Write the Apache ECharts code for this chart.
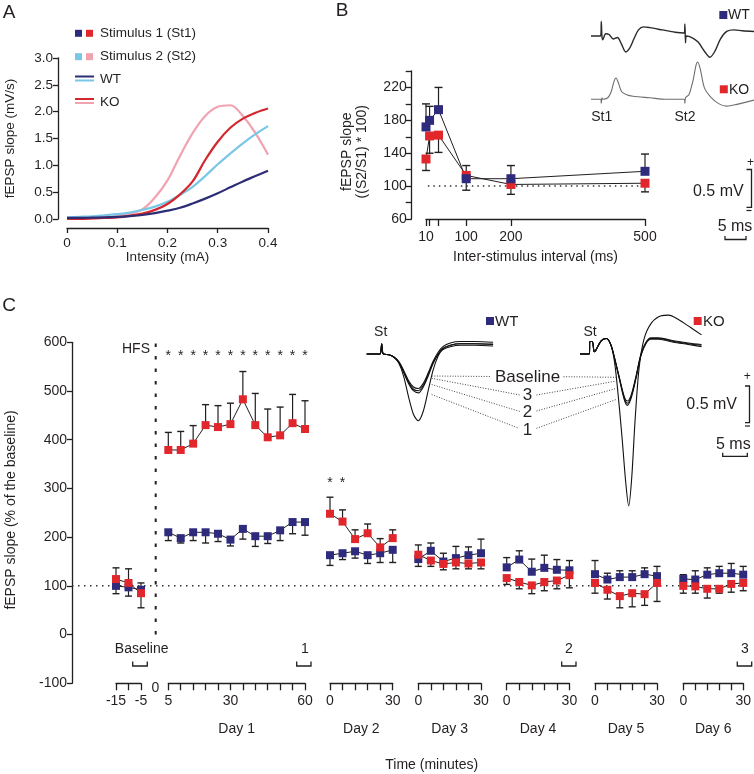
<!DOCTYPE html>
<html><head><meta charset="utf-8">
<script src="https://cdn.jsdelivr.net/npm/echarts@6/dist/echarts.min.js"></script>
<style>html,body{margin:0;padding:0;background:#fff}#c{width:754px;height:774px}</style>
</head><body><div id="c"></div>
<script>
// ---------------- Panel A data ----------------
var aIntensity = [0,0.025,0.05,0.075,0.1,0.125,0.15,0.175,0.2,0.225,0.25,0.275,0.3,0.325,0.35,0.375,0.4];
var aWT_St1 = [0.02,0.02,0.025,0.03,0.04,0.055,0.075,0.11,0.155,0.21,0.29,0.38,0.48,0.59,0.7,0.8,0.9];
var aWT_St2 = [0.03,0.04,0.05,0.07,0.09,0.12,0.17,0.23,0.32,0.45,0.6,0.8,1.02,1.22,1.41,1.58,1.73];
var aKO_St1 = [0,0,0.01,0.02,0.03,0.06,0.1,0.17,0.28,0.46,0.7,1.1,1.44,1.7,1.87,1.98,2.06];
var aKO_St2 = [0,0.005,0.01,0.025,0.05,0.1,0.18,0.4,0.72,1.18,1.6,1.92,2.09,2.12,1.92,1.6,1.2];

// ---------------- Panel B data ----------------
var bInterval = [10,18,38,100,200,500];
var bWT = [172,180,193,109,109,118];
var bWTErrEnd = [200,197,220,95,125,139];
var bKO = [133,161,162,113,102,103.5];
var bKOErrEnd = [119,140,141,125,90,93];
var bTickValues = [10,18,38,100,200,500];
var bLabelValues = [10,100,200,500];
// example traces (time ms, mV)
var bTraceWT = [[0,0],[2.3,0],[2.45,0.19],[2.6,0.0],[2.8,-0.05],[3.5,0.03],[4.3,0.02],[5.3,-0.04],[6.3,-0.02],[7.2,-0.1],[8.3,-0.21],[9.2,-0.16],[10.2,-0.04],[11.3,0.08],[12.5,0.12],[14,0.11],[17,0.08],[20,0.05],[22.2,0.04],[22.35,0.16],[22.5,-0.09],[22.7,0.0],[24,-0.02],[25.5,-0.08],[27,-0.2],[28.3,-0.28],[29.5,-0.2],[30.8,-0.04],[32.3,0.06],[34,0.08],[36,0.07],[38.8,0.06]];
var bTraceKO = [[0,0],[2.3,0],[2.45,-0.05],[2.6,0.02],[2.8,0],[4,0.02],[4.8,0.1],[5.5,0.24],[5.95,0.28],[6.5,0.22],[7.3,0.1],[8.5,0.06],[10,0.04],[14,0.02],[18,0.0],[22.2,0.0],[22.35,-0.05],[22.5,0.02],[23.3,0.06],[24.3,0.25],[25.0,0.45],[25.4,0.49],[26,0.4],[27,0.15],[28.5,0.03],[30.5,-0.06],[32.3,-0.09],[34.5,-0.07],[38.8,-0.01]];

// ---------------- Panel C data ----------------
var cBaseTime = [-15,-10,-5];
var cWT_base = [100,97,92];   var cWTErr_base = [84,79,106];
var cKO_base = [114,106,85];  var cKOErr_base = [137,135,55];
var cDay1Time = [5,10,15,20,25,30,35,40,45,50,55,60];
var cWT_d1 = [210,198,210,210,207,195,217,202,202,214,231,231];
var cWTErr_d1 = [193,188,193,188,191,182,196,181,187,193,207,204];
var cKO_d1 = [379,379,392,430,426,432,483,430,405,409,434,422];
var cKOErr_d1 = [415,417,429,472,470,475,540,495,463,467,493,480];
var cDayTime = [0,6,12,18,24,30];
var cWT_d2 = [163,167,171,163,167,174]; var cWTErr_d2 = [142,154,157,146,148,148];
var cKO_d2 = [248,232,196,208,179,198]; var cKOErr_d2 = [282,256,215,227,197,215];
var cWT_d3 = [155,172,150,157,163,167]; var cWTErr_d3 = [184,188,167,181,180,196];
var cKO_d3 = [164,152,145,148,146,148]; var cKOErr_d3 = [140,140,133,135,135,135];
var cWT_d4 = [138,154,129,137,133,132]; var cWTErr_d4 = [158,172,155,163,154,152];
var cKO_d4 = [116,108,101,108,111,122]; var cKOErr_d4 = [103,94,84,90,94,96];
var cWT_d5 = [124,113,118,118,124,120]; var cWTErr_d5 = [152,126,131,131,137,140];
var cKO_d5 = [106,92,79,85,83,106];     var cKOErr_d5 = [85,73,55,57,60,68];
var cWT_d6 = [114,113,123,126,126,123]; var cWTErr_d6 = [123,131,137,140,146,140];
var cKO_d6 = [100,99,94,94,104,106];    var cKOErr_d6 = [85,85,75,85,87,90];
var cStarTimesD1 = [5,10,15,20,25,30,35,40,45,50,55,60];
var cStarTimesD2 = [0,6];
var cStarLevelD1 = 572, cStarLevelD2 = 310;
var cHFSTime = 0;
// example traces (time ms, mV)
var cTraceWT_base = [[0,0],[2.7,0],[2.9,0.05],[3.05,0.14],[3.2,0.04],[3.4,0],[4.5,-0.01],[5.5,-0.04],[6.5,-0.1],[7.5,-0.22],[8.5,-0.36],[9.5,-0.45],[10.5,-0.47],[11.5,-0.4],[12.5,-0.26],[13.5,-0.1],[14.5,0.02],[15.5,0.1],[17,0.15],[19,0.17],[22,0.17],[25.7,0.16]];
var cTraceWT_3 = [[0,0],[2.7,0],[2.9,0.05],[3.05,0.14],[3.2,0.04],[3.4,0],[4.5,-0.01],[5.5,-0.04],[6.5,-0.11],[7.5,-0.24],[8.5,-0.38],[9.5,-0.48],[10.5,-0.5],[11.5,-0.43],[12.5,-0.28],[13.5,-0.12],[14.5,0.0],[15.5,0.08],[17,0.12],[19,0.14],[22,0.14],[25.7,0.135]];
var cTraceWT_2 = [[0,0],[2.7,0],[2.9,0.05],[3.05,0.14],[3.2,0.04],[3.4,0],[4.5,-0.01],[5.5,-0.04],[6.5,-0.11],[7.5,-0.25],[8.5,-0.4],[9.5,-0.5],[10.5,-0.53],[11.5,-0.45],[12.5,-0.3],[13.5,-0.13],[14.5,-0.01],[15.5,0.06],[17,0.1],[19,0.12],[22,0.12],[25.7,0.11]];
var cTraceWT_1 = [[0,0],[2.7,0],[2.9,0.05],[3.05,0.14],[3.2,0.04],[3.4,0],[4.5,-0.01],[5.5,-0.04],[6.5,-0.12],[7.5,-0.3],[8.5,-0.58],[9.5,-0.82],[10.5,-0.91],[11.5,-0.78],[12.5,-0.5],[13.5,-0.22],[14.5,-0.03],[15.5,0.07],[17,0.12],[19,0.14],[22,0.14],[25.7,0.13]];
var cTraceKO_base = [[0,0],[1.9,0],[2.0,0.17],[2.5,0.17],[2.9,0.03],[3.3,0.06],[4.3,0.18],[5.4,0.21],[6.3,0.12],[7,-0.05],[8,-0.32],[9,-0.58],[9.6,-0.64],[10.4,-0.56],[11.4,-0.3],[12.4,0.0],[13.4,0.16],[14.4,0.22],[16,0.22],[19,0.18],[22,0.15],[24.7,0.13]];
var cTraceKO_3 = [[0,0],[1.9,0],[2.0,0.17],[2.5,0.17],[2.9,0.03],[3.3,0.06],[4.3,0.18],[5.4,0.21],[6.3,0.12],[7,-0.05],[8,-0.33],[9,-0.6],[9.6,-0.67],[10.4,-0.58],[11.4,-0.31],[12.4,-0.01],[13.4,0.15],[14.4,0.21],[16,0.21],[19,0.17],[22,0.14],[24.7,0.12]];
var cTraceKO_2 = [[0,0],[1.9,0],[2.0,0.17],[2.5,0.17],[2.9,0.03],[3.3,0.06],[4.3,0.18],[5.4,0.21],[6.3,0.12],[7,-0.05],[8,-0.34],[9,-0.62],[9.6,-0.7],[10.4,-0.6],[11.4,-0.33],[12.4,-0.02],[13.4,0.14],[14.4,0.2],[16,0.2],[19,0.16],[22,0.13],[24.7,0.1]];
var cTraceKO_1 = [[0,0],[1.9,0],[2.0,0.17],[2.5,0.17],[2.9,0.03],[3.3,0.06],[4.3,0.18],[5.4,0.21],[6.3,0.12],[7,-0.1],[7.6,-0.45],[8.5,-1.1],[9.3,-1.75],[9.9,-2.07],[10.5,-1.7],[11.2,-0.9],[12,-0.2],[13,0.2],[14.5,0.42],[16.5,0.52],[18,0.53],[20,0.47],[22.5,0.36],[24.7,0.26]];

// ---------------- styling ----------------
var FONT = "'Liberation Sans', Arial, Helvetica, sans-serif";
var INK = '#231f20';
var NAVY = '#2e2b7d', RED = '#e1262c';
var NAVYL = '#2c2d75', LBLUE = '#79c6e6', REDL = '#d4262e', PINK = '#f2a3b0';

var grids = [], xAxes = [], yAxes = [], series = [], graphics = [];
function addGrid(g, xa, ya) {
  var i = grids.length;
  grids.push(g); xa.gridIndex = i; ya.gridIndex = i;
  xAxes.push(xa); yAxes.push(ya); return i;
}
function hiddenAxis(min, max) { return {type: 'value', min: min, max: max, show: false}; }
function zip(xs, ys) { return xs.map(function (x, i) { return [x, ys[i]]; }); }
function lineCommon(c) { return {color: c || INK, width: 1.3}; }

function errSeries(gi, xs, ys, ends, cap) {
  return {
    type: 'custom', xAxisIndex: gi, yAxisIndex: gi, z: 3, silent: true, animation: false,
    data: xs.map(function (x, i) { return [x, ys[i], ends[i]]; }),
    renderItem: function (params, api) {
      var p0 = api.coord([api.value(0), api.value(1)]);
      var p1 = api.coord([api.value(0), api.value(2)]);
      return {type: 'group', children: [
        {type: 'line', shape: {x1: p0[0], y1: p0[1], x2: p1[0], y2: p1[1]}, style: {stroke: INK, lineWidth: 1.2}},
        {type: 'line', shape: {x1: p1[0] - cap, y1: p1[1], x2: p1[0] + cap, y2: p1[1]}, style: {stroke: INK, lineWidth: 1.4}}
      ]};
    }
  };
}
function markerSeries(gi, xs, ys, color, size) {
  return {
    type: 'line', xAxisIndex: gi, yAxisIndex: gi, z: 5, clip: false, animation: false, silent: true,
    data: zip(xs, ys), symbol: 'rect', symbolSize: size, showSymbol: true,
    itemStyle: {color: color, borderWidth: 0, opacity: 1},
    lineStyle: {color: INK, width: 1}
  };
}
function traceSeries(gi, pts, color, w) {
  return {type: 'line', xAxisIndex: gi, yAxisIndex: gi, data: pts, symbol: 'none', smooth: 0.3,
    clip: false, silent: true, animation: false, lineStyle: {color: color, width: w}};
}
function txt(x, y, s, size, align, extra) {
  var o = {type: 'text', x: x, y: y, silent: true, z: 100,
    style: {text: s, fontFamily: FONT, fontSize: size, fill: INK, textAlign: align || 'center', textVerticalAlign: 'middle'}};
  if (extra) for (var k in extra) o[k] = extra[k];
  return o;
}
function ln(x1, y1, x2, y2, w, dash, color) {
  return {type: 'line', silent: true, z: 50, shape: {x1: x1, y1: y1, x2: x2, y2: y2},
    style: {stroke: color || INK, lineWidth: w || 1.2, lineDash: dash || null}};
}
function poly(pts, w) {
  return {type: 'polyline', silent: true, z: 50, shape: {points: pts}, style: {stroke: INK, fill: null, lineWidth: w || 1.3}};
}
function sq(cx, cy, s, color) {
  return {type: 'rect', silent: true, z: 50, shape: {x: cx - s / 2, y: cy - s / 2, width: s, height: s}, style: {fill: color}};
}
var axisLab = function (size) { return {color: INK, fontFamily: FONT, fontSize: size}; };

// ================= Panel A =================
var gA = addGrid({left: 67, top: 58, width: 201, height: 161},
  {type: 'value', min: 0, max: 0.4, interval: 0.1, offset: 9,
   axisLine: {show: true, onZero: false, lineStyle: lineCommon()}, axisTick: {show: true, length: 5, lineStyle: lineCommon()},
   splitLine: {show: false},
   axisLabel: Object.assign(axisLab(13.5), {margin: 8, formatter: function (v) { return v === 0 ? '0' : v.toFixed(1); }})},
  {type: 'value', min: 0, max: 3, interval: 0.5, offset: 9,
   axisLine: {show: true, onZero: false, lineStyle: lineCommon()}, axisTick: {show: true, length: 5, lineStyle: lineCommon()},
   splitLine: {show: false},
   axisLabel: Object.assign(axisLab(13.5), {margin: 5, formatter: function (v) { return v.toFixed(1); }})});
[[aKO_St2, PINK], [aWT_St2, LBLUE], [aKO_St1, REDL], [aWT_St1, NAVYL]].forEach(function (p) {
  series.push({type: 'line', xAxisIndex: gA, yAxisIndex: gA, data: zip(aIntensity, p[0]), symbol: 'none',
    smooth: 0.35, silent: true, animation: false, lineStyle: {color: p[1], width: 2.2}});
});
graphics.push(txt(10, 138.5, 'fEPSP slope (mV/s)', 13.5, 'center', {rotation: Math.PI / 2}));
graphics.push(txt(167.5, 257, 'Intensity (mA)', 13.5));
graphics.push(txt(9, 13, 'A', 19));
graphics.push(sq(78.5, 33.3, 7, NAVY), sq(89.5, 33.3, 7, RED), txt(100, 33.3, 'Stimulus 1 (St1)', 13.5, 'left'));
graphics.push(sq(78.5, 56.7, 7, LBLUE), sq(89.5, 56.7, 7, PINK), txt(100, 56.7, 'Stimulus 2 (St2)', 13.5, 'left'));
graphics.push(ln(75, 76.5, 94, 76.5, 2, null, NAVYL), ln(75, 80.5, 94, 80.5, 2, null, LBLUE), txt(100, 79, 'WT', 13.5, 'left'));
graphics.push(ln(75, 99, 94, 99, 2, null, REDL), ln(75, 103, 94, 103, 2, null, PINK), txt(100, 102, 'KO', 13.5, 'left'));

// ================= Panel B =================
var gB = addGrid({left: 426, top: 71, width: 219, height: 148},
  {type: 'value', min: 10, max: 500,
   axisLine: {show: true, onZero: false, lineStyle: lineCommon()},
   axisTick: {show: true, length: 7, customValues: bTickValues, lineStyle: lineCommon()},
   splitLine: {show: false},
   axisLabel: Object.assign(axisLab(14), {margin: 11, customValues: bLabelValues})},
  {type: 'value', min: 60, max: 240, interval: 20, offset: 14.3,
   axisLine: {show: true, onZero: false, lineStyle: lineCommon()}, axisTick: {show: true, length: 6, lineStyle: lineCommon()},
   splitLine: {show: false},
   axisLabel: Object.assign(axisLab(14), {margin: 5, formatter: function (v) { return ((v - 60) % 40 === 0 && v <= 220) ? String(v) : ''; }})});
series.push({type: 'line', xAxisIndex: gB, yAxisIndex: gB, data: [[-10.5, 100], [507, 100]], symbol: 'none', clip: false,
  silent: true, animation: false, lineStyle: {color: '#333', width: 1.5, type: [1.5, 4]}});
series.push(errSeries(gB, bInterval, bWT, bWTErrEnd, 4));
series.push(errSeries(gB, bInterval, bKO, bKOErrEnd, 4));
series.push(markerSeries(gB, bInterval, bKO, RED, 9));
series.push(markerSeries(gB, bInterval, bWT, NAVY, 9));
graphics.push(txt(347.5, 151.7, 'fEPSP slope', 14, 'center', {rotation: Math.PI / 2}));
graphics.push(txt(362.5, 151.7, '((S2/S1) * 100)', 14, 'center', {rotation: Math.PI / 2}));
graphics.push(txt(535.5, 257, 'Inter-stimulus interval (ms)', 14));
graphics.push(txt(342, 11, 'B', 19));
// B example traces
var gBtw = addGrid({left: 591, top: 5.6, width: 163, height: 60.8}, hiddenAxis(0, 38.8), hiddenAxis(-0.4, 0.4));
series.push(traceSeries(gBtw, bTraceWT, '#2a2a2a', 1.4));
var gBtk = addGrid({left: 591, top: 68.9, width: 163, height: 60.8}, hiddenAxis(0, 38.8), hiddenAxis(-0.4, 0.4));
series.push(traceSeries(gBtk, bTraceKO, '#6e6e6e', 1.1));
graphics.push(txt(601.7, 117.3, 'St1', 14), txt(685, 117.3, 'St2', 14));
graphics.push(sq(723.3, 15, 8, NAVY), txt(728, 15.5, 'WT', 14, 'left'));
graphics.push(sq(723.8, 89.3, 8, RED), txt(729, 89.8, 'KO', 14, 'left'));
// B scale bar
graphics.push(txt(750.5, 163, '+', 12), poly([[746.5, 169.5], [751.5, 169.5], [751.5, 207.3], [746.5, 207.3]]),
  ln(746.5, 210.5, 751.5, 210.5, 1.2), txt(718.3, 191.7, '0.5 mV', 16), txt(735, 226.5, '5 ms', 16),
  poly([[725, 236], [725, 239.5], [746, 239.5], [746, 236]]));

// ================= Panel C =================
var C_TOP = 342.3, C_H = 341;
var gC = addGrid({left: 72, top: C_TOP, width: 673, height: C_H},
  hiddenAxis(0, 1),
  {type: 'value', min: -100, max: 600, interval: 100,
   axisLine: {show: true, onZero: false, lineStyle: lineCommon()}, axisTick: {show: true, length: 5, lineStyle: lineCommon()},
   splitLine: {show: false}, axisLabel: Object.assign(axisLab(14), {margin: 5})});
series.push({type: 'line', xAxisIndex: gC, yAxisIndex: gC, data: [[0, 100], [1, 100]], symbol: 'none', clip: false,
  silent: true, animation: false, lineStyle: {color: '#333', width: 1.5, type: [1.5, 4.5]}});

var segs = [
  {name: '', xs: cBaseTime, wt: cWT_base, wtE: cWTErr_base, ko: cKO_base, koE: cKOErr_base, min: -15, max: -5, itv: 5, show: [-15, -5], left: 116, width: 25},
  {name: 'Day 1', xs: cDay1Time, wt: cWT_d1, wtE: cWTErr_d1, ko: cKO_d1, koE: cKOErr_d1, min: 5, max: 60, itv: 5, show: [5, 30, 60], left: 168.3, width: 136.7},
  {name: 'Day 2', xs: cDayTime, wt: cWT_d2, wtE: cWTErr_d2, ko: cKO_d2, koE: cKOErr_d2, min: 0, max: 30, itv: 6, show: [0, 30], left: 330, width: 62.7},
  {name: 'Day 3', xs: cDayTime, wt: cWT_d3, wtE: cWTErr_d3, ko: cKO_d3, koE: cKOErr_d3, min: 0, max: 30, itv: 6, show: [0, 30], left: 418.3, width: 62.7},
  {name: 'Day 4', xs: cDayTime, wt: cWT_d4, wtE: cWTErr_d4, ko: cKO_d4, koE: cKOErr_d4, min: 0, max: 30, itv: 6, show: [0, 30], left: 506.7, width: 62.7},
  {name: 'Day 5', xs: cDayTime, wt: cWT_d5, wtE: cWTErr_d5, ko: cKO_d5, koE: cKOErr_d5, min: 0, max: 30, itv: 6, show: [0, 30], left: 595, width: 62},
  {name: 'Day 6', xs: cDayTime, wt: cWT_d6, wtE: cWTErr_d6, ko: cKO_d6, koE: cKOErr_d6, min: 0, max: 30, itv: 6, show: [0, 30], left: 683.3, width: 62}
];
var segIdx = [];
segs.forEach(function (s) {
  var xa = {type: 'value', min: s.min, max: s.max, interval: s.itv,
     axisLine: {show: true, onZero: false, lineStyle: lineCommon()},
     axisTick: {show: true, length: 7, lineStyle: lineCommon()},
     splitLine: {show: false},
     axisLabel: Object.assign(axisLab(14), {margin: 11, formatter: (function (sh) { return function (v) { return sh.indexOf(v) >= 0 ? String(v) : ''; }; })(s.show)})};
  if (s.name) { xa.name = s.name; xa.nameLocation = 'middle'; xa.nameGap = 39; xa.nameTextStyle = axisLab(14); }
  var gi = addGrid({left: s.left, top: C_TOP, width: s.width, height: C_H}, xa,
    {type: 'value', min: -100, max: 600, show: false});
  segIdx.push(gi);
  series.push(errSeries(gi, s.xs, s.wt, s.wtE, 3.5));
  series.push(errSeries(gi, s.xs, s.ko, s.koE, 3.5));
  series.push(markerSeries(gi, s.xs, s.wt, NAVY, 8));
  series.push(markerSeries(gi, s.xs, s.ko, RED, 8));
});
// HFS line at time 0 (its own narrow frame around t = 0)
var gH = addGrid({left: 145.7, top: C_TOP, width: 20, height: C_H}, hiddenAxis(-1, 1), hiddenAxis(-100, 600));
series.push({type: 'line', xAxisIndex: gH, yAxisIndex: gH, data: [[cHFSTime, 0], [cHFSTime, 606]], symbol: 'none', clip: false,
  silent: true, animation: false, lineStyle: {color: INK, width: 2, type: [3.5, 9]}});
function starSeries(gi, times, level) {
  return {type: 'custom', xAxisIndex: gi, yAxisIndex: gi, silent: true, animation: false, z: 6,
    data: times.map(function (t) { return [t, level]; }),
    renderItem: function (params, api) {
      var p = api.coord([api.value(0), api.value(1)]);
      return {type: 'text', x: p[0], y: p[1], style: {text: '*', fontFamily: FONT, fontSize: 14, fill: INK, textAlign: 'center', textVerticalAlign: 'middle'}};
    }};
}
series.push(starSeries(segIdx[1], cStarTimesD1, cStarLevelD1));
series.push(starSeries(segIdx[2], cStarTimesD2, cStarLevelD2));

graphics.push(txt(11, 510, 'fEPSP slope (% of the baseline)', 14, 'center', {rotation: Math.PI / 2}));
graphics.push(txt(9, 306, 'C', 19));
graphics.push(txt(150, 349.5, 'HFS', 14, 'right'));
graphics.push(txt(155.5, 688.5, '0', 14, 'center', {zlevel: 3, z: 200}));
graphics.push(txt(431.7, 765, 'Time (minutes)', 14));
graphics.push(txt(141.7, 649, 'Baseline', 14), poly([[132.7, 661.5], [132.7, 666], [147.3, 666], [147.3, 661.5]]));
graphics.push(txt(305, 649, '1', 14), poly([[296.7, 661.5], [296.7, 666], [311, 666], [311, 661.5]]));
graphics.push(txt(569, 649, '2', 14), poly([[561.7, 661.5], [561.7, 666], [576, 666], [576, 661.5]]));
graphics.push(txt(745, 649, '3', 14), poly([[737.3, 661.5], [737.3, 666], [751.7, 666], [751.7, 661.5]]));

// C example traces
var gCtw = addGrid({left: 366.7, top: 332, width: 126.4, height: 95.4}, hiddenAxis(0, 25.7), hiddenAxis(-1.0, 0.3));
[cTraceWT_base, cTraceWT_3, cTraceWT_2, cTraceWT_1].forEach(function (t) { series.push(traceSeries(gCtw, t, '#111', 1.1)); });
var gCtk = addGrid({left: 580, top: 302.6, width: 121.5, height: 212.9}, hiddenAxis(0, 24.7), hiddenAxis(-2.2, 0.7));
[cTraceKO_base, cTraceKO_3, cTraceKO_2, cTraceKO_1].forEach(function (t) { series.push(traceSeries(gCtk, t, '#111', 1.1)); });
graphics.push(txt(380.7, 332.3, 'St', 14), txt(590, 332.3, 'St', 14));
graphics.push(sq(490, 321, 8, NAVY), txt(495, 321.5, 'WT', 15, 'left'));
graphics.push(sq(697.7, 321, 8, RED), txt(703, 321.5, 'KO', 15, 'left'));
var DOT = [1, 1.6];
graphics.push(ln(431.7, 376, 491, 376.5, 1, DOT, '#444'), ln(563.5, 376.7, 616.7, 377.3, 1, DOT, '#444'));
graphics.push(ln(431.7, 378.3, 520, 395, 1, DOT, '#444'), ln(536.5, 395, 616.7, 381, 1, DOT, '#444'));
graphics.push(ln(431.7, 384.5, 520, 411.5, 1, DOT, '#444'), ln(536.5, 411, 616.7, 388.3, 1, DOT, '#444'));
graphics.push(ln(431.7, 394.5, 519, 428.3, 1, DOT, '#444'), ln(536.5, 428.3, 616.7, 399.3, 1, DOT, '#444'));
graphics.push(txt(527.5, 377, 'Baseline', 17), txt(527.5, 395, '3', 17), txt(527.5, 412.5, '2', 17), txt(527.5, 430, '1', 17));
// C scale bar
graphics.push(txt(747.3, 377, '+', 12), poly([[745, 386], [749.5, 386], [749.5, 422.7], [745, 422.7]]),
  ln(745, 426, 750, 426, 1.2), txt(711.7, 405, '0.5 mV', 16), txt(733.3, 444.5, '5 ms', 16),
  poly([[722.7, 452.7], [722.7, 456.3], [747.3, 456.3], [747.3, 452.7]]));

var chart = echarts.init(document.getElementById('c'), null, {renderer: 'canvas'});
chart.setOption({
  animation: false,
  backgroundColor: '#fff',
  textStyle: {fontFamily: FONT},
  grid: grids, xAxis: xAxes, yAxis: yAxes, series: series,
  graphic: {elements: graphics}
});
</script>
</body></html>
